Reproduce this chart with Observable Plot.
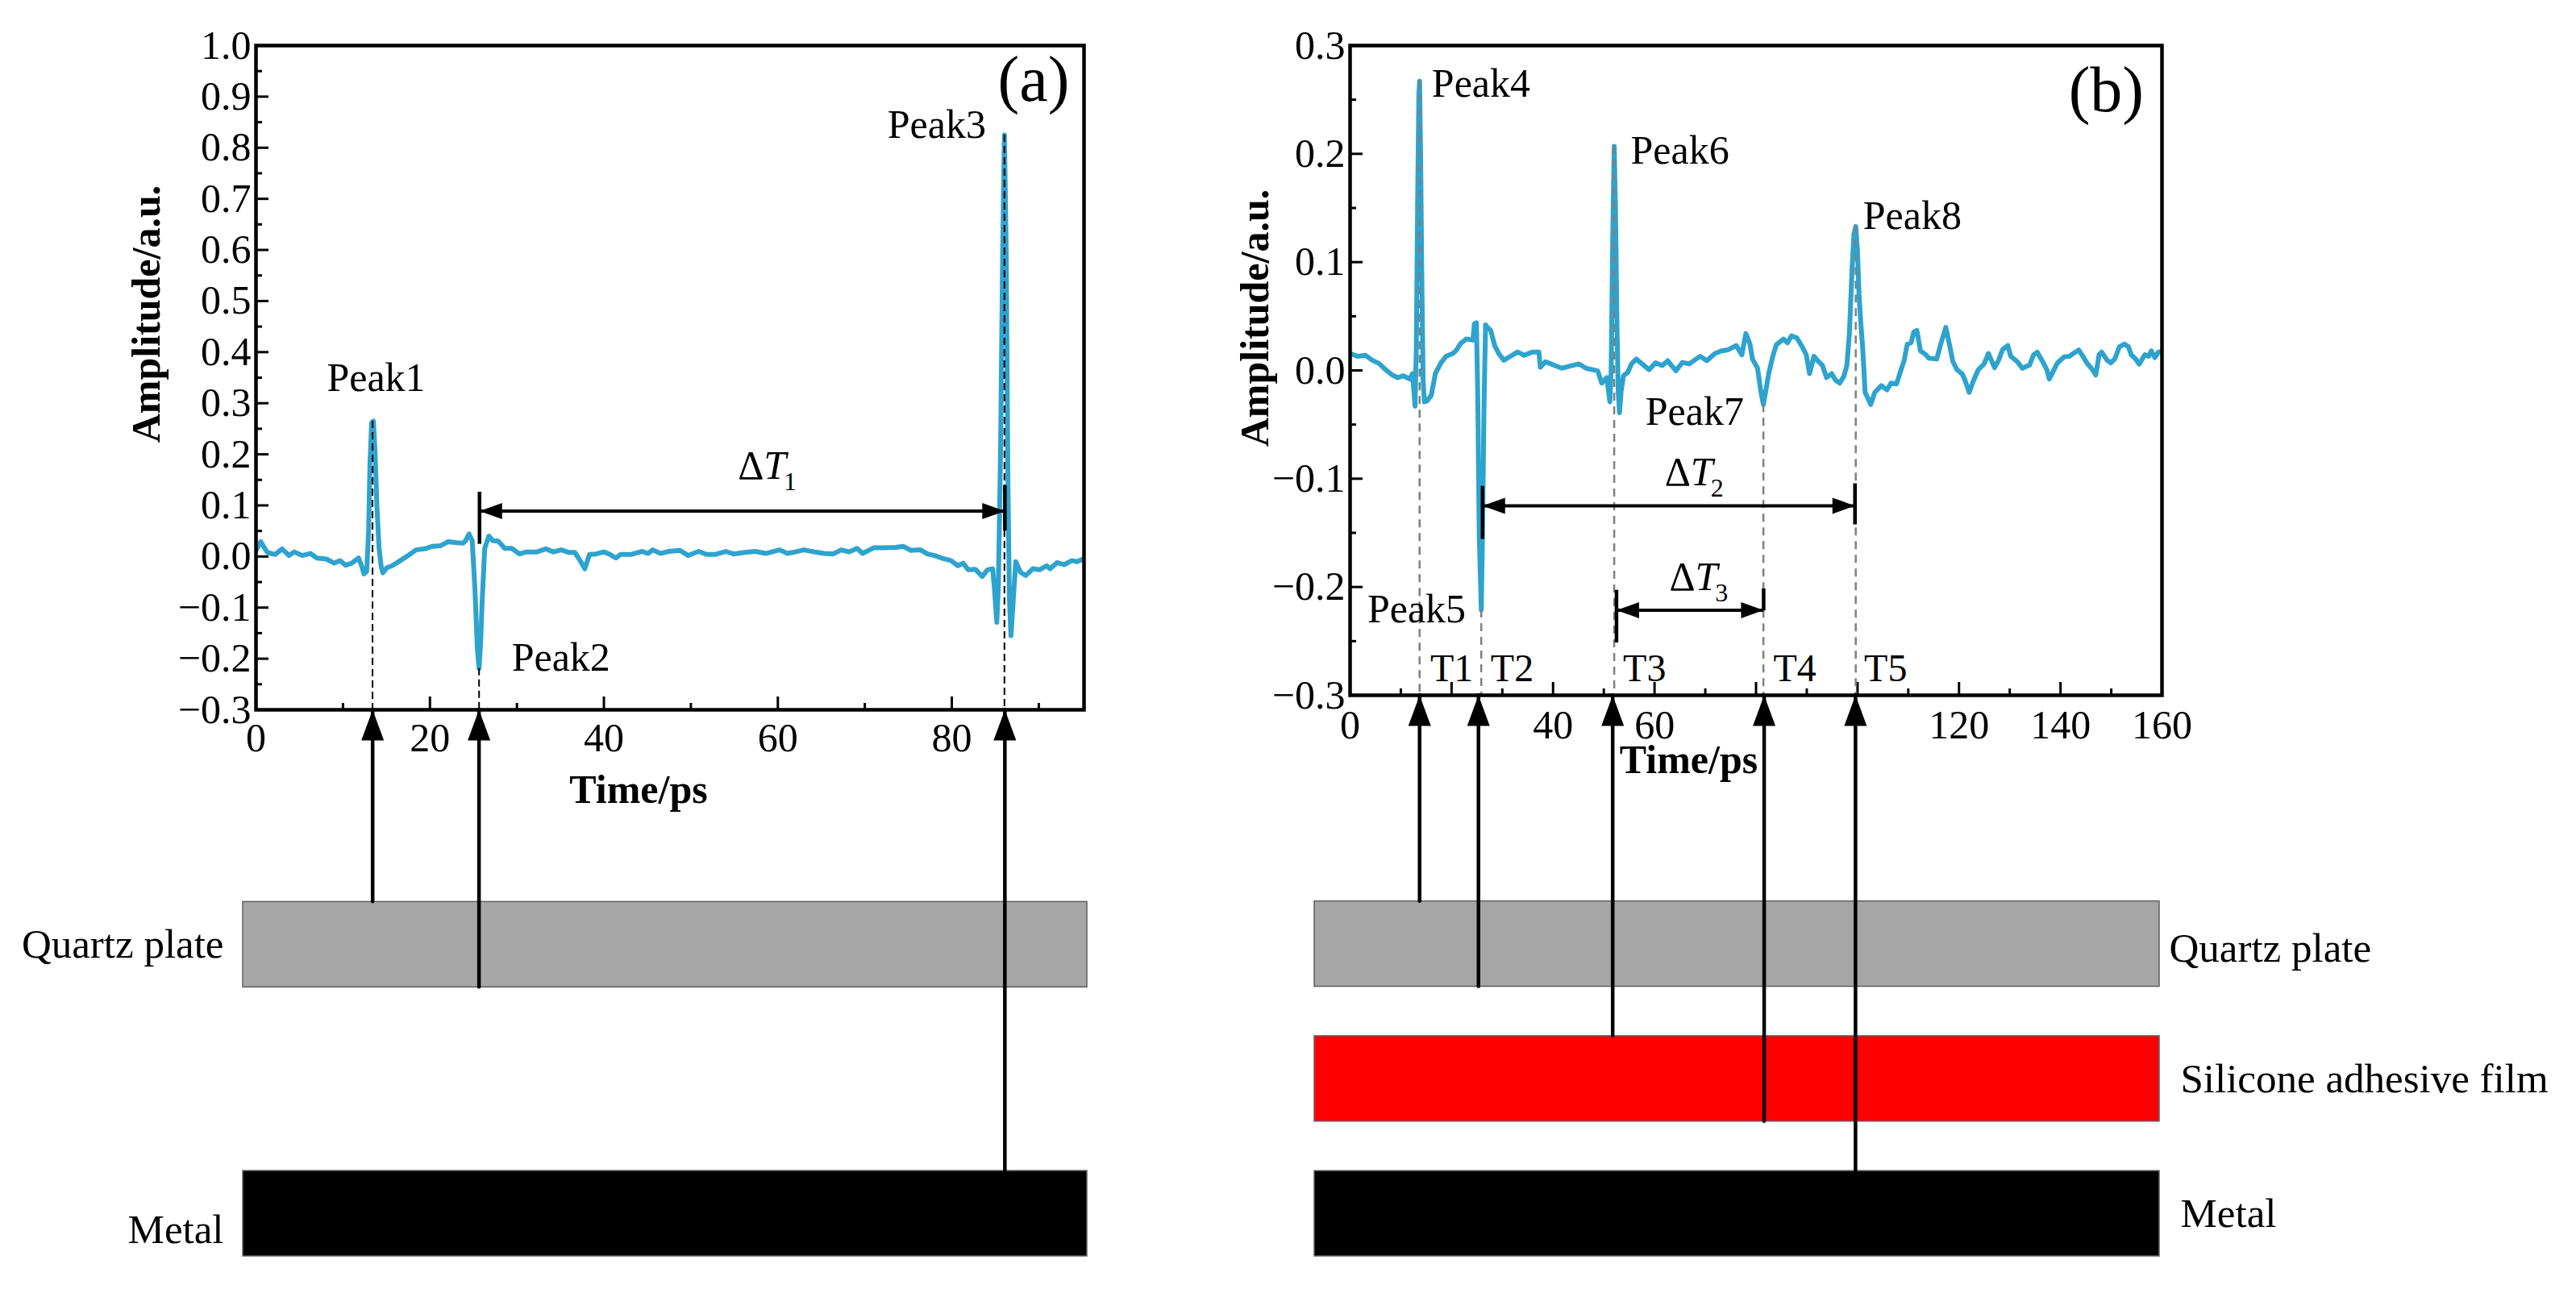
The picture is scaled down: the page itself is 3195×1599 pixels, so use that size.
<!DOCTYPE html>
<html><head><meta charset="utf-8">
<script src="https://cdn.jsdelivr.net/npm/d3@7"></script>
<script src="https://cdn.jsdelivr.net/npm/@observablehq/plot@0.6"></script>
<style>
html,body{margin:0;padding:0;background:#fff;}
#root{position:relative;width:3195px;height:1599px;overflow:hidden;background:#fff;}
#root > svg{position:absolute;left:0;top:0;}
</style></head><body><div id="root"></div>
<script>
// ---------------- data: panel (a) waveform ----------------
const timeA = [0,0.55,1.3,2.2,3.0,3.8,4.4,5.3,6.25,7.0,8.1,9.0,9.65,10.3,11.0,11.8,12.1,12.42,12.73,12.95,13.1,13.3,13.5,13.7,13.9,14.15,14.4,14.58,15.05,15.66,16.6,17.5,18.4,19.4,20.3,21.2,22.1,23.1,23.8,24.1,24.5,24.86,25.17,25.45,25.65,25.85,26.0,26.3,26.78,27.24,27.86,28.6,29.4,30.3,31.1,32.3,33.3,34.2,35.1,36.0,36.65,37.27,37.8,38.35,39.1,40.05,40.7,41.4,41.9,43.1,44.4,45.1,45.6,46.5,47.45,48.75,49.7,50.9,51.8,52.8,54.0,54.9,56.2,57.4,58.6,60.2,61.1,62.0,63.0,64.2,65.3,66.35,67.3,68.2,69.1,69.74,71.0,72.2,73.6,74.4,75.3,76.4,77.2,78.0,79.0,79.9,80.7,81.3,81.9,82.7,83.5,84.1,84.7,84.9,85.17,85.35,85.6,85.85,86.05,86.25,86.45,86.62,86.8,87.05,87.35,87.9,88.5,89.3,90.1,90.9,91.3,92.1,92.9,93.8,94.4,95.2];
const ampA  = [0.012,0.029,0.008,0.004,0.015,0.002,0.009,0.002,0.006,-0.003,-0.005,-0.013,-0.008,-0.017,-0.013,-0.003,-0.016,-0.034,-0.029,0.05,0.18,0.262,0.265,0.2,0.1,0.016,-0.02,-0.032,-0.022,-0.018,-0.008,0.002,0.013,0.015,0.02,0.021,0.029,0.027,0.026,0.031,0.044,0.031,-0.063,-0.18,-0.219,-0.16,-0.089,0.016,0.04,0.031,0.03,0.016,0.016,0.005,0.009,0.009,0.015,0.009,0.013,0.008,0.008,-0.008,-0.024,0.004,0.005,0.009,0.004,-0.003,0.004,0.004,0.01,0.006,0.013,0.006,0.01,0.012,0.002,0.01,0.004,0.004,0.01,0.005,0.008,0.01,0.006,0.013,0.006,0.009,0.013,0.009,0.006,0.005,0.013,0.009,0.016,0.006,0.017,0.017,0.018,0.02,0.012,0.013,0.005,0.002,-0.004,-0.008,-0.018,-0.013,-0.026,-0.025,-0.039,-0.026,-0.024,-0.063,-0.129,-0.06,0.2,0.6,0.825,0.6,0.15,-0.08,-0.155,-0.09,-0.01,-0.031,-0.037,-0.024,-0.026,-0.018,-0.024,-0.012,-0.016,-0.008,-0.01,-0.004];

// ---------------- data: panel (b) waveform ----------------
const timeB = [0,1.46,3.05,4.37,5.7,7.0,8.3,9.4,10.5,11.8,12.3,12.8,13.05,13.3,13.55,13.7,13.9,14.15,14.4,14.65,15.2,16.0,16.8,17.9,18.9,20.25,21.0,21.8,22.9,24.2,24.5,24.9,25.15,25.45,25.85,26.1,26.4,26.7,27.0,27.7,28.5,29.3,30.3,31.6,33.0,34.3,35.9,37.2,37.5,38.5,40.1,41.7,43.3,45.1,46.5,47.8,48.8,49.6,50.6,51.2,51.45,51.75,52.05,52.3,52.6,52.85,53.1,53.4,53.87,54.7,55.45,56.4,57.3,58.9,60.2,61.5,62.6,64.2,65.5,66.8,68.2,69.0,70.3,71.9,73.2,74.5,76.1,77.2,78.0,78.8,79.3,80.3,80.9,81.45,82.5,83.3,84.0,85.4,86.2,87.0,88.06,89.1,89.9,90.55,91.4,92.3,93.1,93.9,94.9,95.7,96.5,97.3,97.9,98.4,98.95,99.3,99.65,100.0,100.3,100.7,101.0,101.5,102.6,103.4,104.7,105.8,106.6,107.7,108.4,109.2,109.8,110.55,111.1,111.7,112.4,113.5,114.0,115.6,116.4,117.4,118.1,118.8,119.6,120.6,121.2,122.0,122.8,123.8,124.9,125.8,127.0,127.8,128.6,129.6,130.2,131.5,132.5,133.9,134.7,135.4,136.5,137.3,137.8,138.6,139.4,140.7,141.8,142.5,143.6,144.4,145.2,146.3,146.96,147.6,148.1,149.2,149.9,150.7,151.6,152.6,153.4,153.95,154.8,155.5,156.6,157.4,157.9,158.6,159.3,160.5];
const ampB  = [0.0156,0.0131,0.0139,0.0094,0.0064,0.0007,-0.0042,-0.0067,-0.005,-0.008,-0.003,-0.033,0.02,0.15,0.255,0.267,0.2,0.08,-0.01,-0.029,-0.028,-0.023,-0.003,0.007,0.013,0.0156,0.019,0.025,0.029,0.028,0.043,0.044,-0.02,-0.15,-0.221,-0.15,-0.03,0.042,0.04,0.037,0.023,0.0156,0.0094,0.013,0.017,0.014,0.017,0.017,0.003,0.008,0.005,0.002,0.004,0.006,0.002,0.0007,-0.0005,-0.0117,-0.0067,-0.029,0.0,0.12,0.207,0.15,0.04,-0.02,-0.039,-0.02,-0.005,-0.002,0.006,0.0105,0.007,0.0007,0.007,0.0044,0.0089,-0.0003,0.0074,0.006,0.0105,0.013,0.009,0.0156,0.018,0.019,0.023,0.0144,0.034,0.0244,0.0105,0.002,-0.018,-0.0315,-0.003,0.013,0.0238,0.029,0.0255,0.032,0.03,0.0218,0.0144,-0.003,0.013,0.0082,0.0045,-0.0067,-0.003,-0.0092,-0.0117,-0.0055,0.0045,0.034,0.096,0.126,0.133,0.11,0.07,0.04,0.022,-0.0203,-0.0315,-0.0203,-0.014,-0.018,-0.0117,-0.0124,-0.002,0.0094,0.0242,0.0255,0.0355,0.037,0.018,0.0144,0.0114,0.0105,0.0242,0.0397,0.0242,0.0082,0.0007,-0.003,-0.0092,-0.0203,-0.01,0.0007,0.0057,0.0156,0.0025,0.0094,0.0193,0.023,0.013,0.008,0.002,0.005,0.0144,0.0169,0.008,0.0007,-0.008,-0.0005,0.0069,0.0124,0.0131,0.0156,0.0188,0.0131,0.0069,0.0007,-0.0042,0.0144,0.0169,0.0094,0.0069,0.0106,0.0218,0.0243,0.0218,0.0144,0.0106,0.0057,0.0144,0.0131,0.018,0.0119,0.017,0.0175];

// ---------------- ticks ----------------
const yLabelsA = [-0.3,-0.2,-0.1,0,0.1,0.2,0.3,0.4,0.5,0.6,0.7,0.8,0.9,1.0];
const yMajorA  = [-0.2,-0.1,0,0.1,0.2,0.3,0.4,0.5,0.6,0.7,0.8,0.9];
const yMinorA  = [-0.25,-0.15,-0.05,0.05,0.15,0.25,0.35,0.45,0.55,0.65,0.75,0.85,0.95];
const xLabelsA = [0,20,40,60,80];
const xMajorA  = [20,40,60,80];
const xMinorA  = [10,30,50,70,90];
const yLabelsB = [-0.3,-0.2,-0.1,0,0.1,0.2,0.3];
const yMajorB  = [-0.2,-0.1,0,0.1,0.2];
const yMinorB  = [-0.25,-0.15,-0.05,0.05,0.15,0.25];
const xLabelsB = [0,40,60,120,140,160];
const xMajorB  = [20,40,60,80,100,120,140];
const xMinorB  = [10,30,50,70,90,110,130,150];

// ---------------- annotations ----------------
const peaksA = [{t:13.4, v:0.265},{t:25.65, v:-0.219},{t:86.05, v:0.825}];
const peakLabelsA = [{label:"Peak1", t:8.15, v:0.349},{label:"Peak2", t:29.4, v:-0.198},{label:"Peak3", t:72.6, v:0.845}];
const spansA = [{label:"ΔT1", t1:25.7, t2:86.1, v:0.089, l1:0.024, l2:0.126, r1:0.05, r2:0.139, lx:55.4, ly:0.178}];

const peaksB = [{t:13.7, v:0.267},{t:25.85, v:-0.221},{t:52.05, v:0.207},{t:81.45, v:-0.0315},{t:99.65, v:0.133}];
const peakLabelsB = [{label:"Peak4", t:16.1, v:0.2645},{label:"Peak5", t:3.4, v:-0.221},{label:"Peak6", t:55.3, v:0.2032},{label:"Peak7", t:58.2, v:-0.038},{label:"Peak8", t:101.1, v:0.1429}];
const tLabelsB = [{label:"T1", t:15.8, v:-0.2755},{label:"T2", t:27.7, v:-0.2755},{label:"T3", t:53.8, v:-0.2755},{label:"T4", t:83.4, v:-0.2755},{label:"T5", t:101.3, v:-0.2755}];
const spansB = [
  {label:"ΔT2", t1:26.1, t2:99.5, v:-0.125, l1:-0.156, l2:-0.107, r1:-0.1426, r2:-0.1046, lx:62.0, ly:-0.0938},
  {label:"ΔT3", t1:52.5, t2:81.5, v:-0.2214, l1:-0.2516, l2:-0.203, r1:-0.222, r2:-0.2017, lx:62.9, ly:-0.1906}
];

// ---------------- layer diagrams ----------------
const layersA = [
  {name:"Quartz plate", top:0, bottom:1, fill:"#a6a6a6"},
  {name:"Metal", top:3.15, bottom:4.15, fill:"#000000"}
];
const echoesA = [{t:13.41, depth:0},{t:25.64, depth:1},{t:86.1, depth:3.15}];
const layersB = [
  {name:"Quartz plate", top:0, bottom:1, fill:"#a6a6a6"},
  {name:"Silicone adhesive film", top:1.58, bottom:2.58, fill:"#ff0000"},
  {name:"Metal", top:3.16, bottom:4.16, fill:"#000000"}
];
const echoesB = [{t:13.7, depth:0},{t:25.3, depth:1},{t:51.75, depth:1.58},{t:81.6, depth:2.58},{t:99.6, depth:3.16}];

// ---------------- rendering ----------------
const W = 3195, H = 1599;
const blue = "#2ea3ce";
const font = '"Liberation Serif", "Times New Roman", serif';
const baseStyle = {fontFamily: font, fontSize: "50px", background: "transparent", color: "black", overflow: "visible"};
const fmt1 = d3.format(".1f");
const waveA = timeA.map((t, i) => ({t, v: ampA[i]}));
const waveB = timeB.map((t, i) => ({t, v: ampB[i]}));

function head(dir, L, Wd) {
  return {draw(ctx) {
    if (dir === "up") { ctx.moveTo(0, 0); ctx.lineTo(-Wd/2, L); ctx.lineTo(Wd/2, L); }
    else if (dir === "left") { ctx.moveTo(0, 0); ctx.lineTo(L, -Wd/2); ctx.lineTo(L, Wd/2); }
    else { ctx.moveTo(0, 0); ctx.lineTo(-L, -Wd/2); ctx.lineTo(-L, Wd/2); }
    ctx.closePath();
  }};
}
const headUp = head("up", 38, 28), headL = head("left", 28, 20), headR = head("right", 28, 20);

function chart(o) {
  const plotW = W - o.mr - o.ml, plotH = o.bottom - o.top;
  return Plot.plot({
    width: W, height: 1010,
    marginLeft: o.ml, marginRight: o.mr, marginTop: o.top, marginBottom: 1010 - o.bottom,
    x: {domain: o.xd}, y: {domain: o.yd},
    style: baseStyle,
    marks: [
      Plot.tickX(o.xMinor, {x: d => d, insetTop: plotH - 8, strokeWidth: 3}),
      Plot.tickX(o.xMajor, {x: d => d, insetTop: plotH - 16, strokeWidth: 3}),
      Plot.tickY(o.yMinor, {y: d => d, insetRight: plotW - 8, strokeWidth: 3}),
      Plot.tickY(o.yMajor, {y: d => d, insetRight: plotW - 16, strokeWidth: 3}),
      Plot.axisX({ticks: o.xLabels, tickSize: 0, tickPadding: o.xPad, tickFormat: d3.format("d"), label: null}),
      Plot.axisY({ticks: o.yLabels, tickSize: 0, tickPadding: 6, tickFormat: fmt1, label: null}),
      Plot.line(o.wave, {x: "t", y: "v", stroke: blue, strokeWidth: 6, strokeLinejoin: "round", clip: true}),
      Plot.ruleX(o.peaks, {x: "t", y1: "v", y2: o.yd[0], stroke: o.dashColor, strokeWidth: o.dashWidth, strokeDasharray: o.dash}),
      Plot.ruleY(o.spans, {y: "v", x1: "t1", x2: "t2", strokeWidth: 4}),
      Plot.ruleX(o.spans, {x: "t1", y1: "l1", y2: "l2", strokeWidth: 4.5}),
      Plot.ruleX(o.spans, {x: "t2", y1: "r1", y2: "r2", strokeWidth: 4.5}),
      Plot.dot(o.spans, {x: "t1", y: "v", symbol: headL, fill: "black", stroke: "none"}),
      Plot.dot(o.spans, {x: "t2", y: "v", symbol: headR, fill: "black", stroke: "none"}),
      Plot.text(o.spans, {x: "lx", y: "ly", text: "label", textAnchor: "start", lineAnchor: "middle"}),
      Plot.text(o.peakLabels, {x: "t", y: "v", text: "label", textAnchor: "start", lineAnchor: "middle"}),
      Plot.text(o.tLabels || [], {x: "t", y: "v", text: "label", textAnchor: "start", lineAnchor: "middle", fontSize: 48}),
      Plot.text([o.tag], {x: o.tagX, y: o.tagY, textAnchor: "middle", lineAnchor: "middle", fontSize: 80}),
      Plot.text(["Amplitude/a.u."], {frameAnchor: "left", rotate: -90, dx: o.ylx, dy: o.yly, textAnchor: "middle", lineAnchor: "middle", fontWeight: "bold"}),
      Plot.text(["Time/ps"], {frameAnchor: "bottom", dx: o.xlx, dy: o.xly, textAnchor: "middle", lineAnchor: "middle", fontWeight: "bold"}),
      Plot.frame({strokeWidth: 4.5})
    ]
  });
}

function layerPlot(o) {
  const mid = d => (d.top + d.bottom) / 2;
  return Plot.plot({
    width: W, height: H,
    marginLeft: o.barL, marginRight: W - o.barR, marginTop: o.axisY, marginBottom: H - 1558,
    x: {domain: o.xd, range: o.xr, axis: null},
    y: {domain: [-o.gap, o.depthMax], reverse: true, axis: null},
    style: baseStyle,
    marks: [
      Plot.rect(o.layers, {y1: "top", y2: "bottom", fill: "fill", stroke: "#606060", strokeWidth: 1.5}),
      ...o.labelMarks(mid),
      Plot.ruleX(o.echoes, {x: "t", y1: "depth", y2: -o.gap, strokeWidth: 4.5, strokeLinecap: "round"}),
      Plot.dot(o.echoes, {x: "t", y: -o.gap, symbol: headUp, fill: "black", stroke: "none"})
    ]
  });
}

const root = document.getElementById("root");

root.append(chart({
  ml: 317, mr: W - 1344, top: 56, bottom: 880, xd: [0, 95.2], yd: [-0.3, 1.0],
  xMinor: xMinorA, xMajor: xMajorA, yMinor: yMinorA, yMajor: yMajorA, xLabels: xLabelsA, yLabels: yLabelsA, xPad: 16,
  wave: waveA, peaks: peaksA, dashColor: "black", dashWidth: 2, dash: "9,5",
  spans: spansA, peakLabels: peakLabelsA, tag: "(a)", tagX: 89.4, tagY: 0.932,
  ylx: -136, yly: -79, xlx: -39, xly: 99
}));

root.append(chart({
  ml: 1674, mr: W - 2681, top: 56, bottom: 862, xd: [0, 160], yd: [-0.3, 0.3],
  xMinor: xMinorB, xMajor: xMajorB, yMinor: yMinorB, yMajor: yMajorB, xLabels: xLabelsB, yLabels: yLabelsB, xPad: 18,
  wave: waveB, peaks: peaksB, dashColor: "#7f7f7f", dashWidth: 2.5, dash: "10,7",
  spans: spansB, peakLabels: peakLabelsB, tLabels: tLabelsB, tag: "(b)", tagX: 149.0, tagY: 0.2586,
  ylx: -118, yly: -65, xlx: -83.5, xly: 80.5
}));

root.append(layerPlot({
  barL: 301, barR: 1348, axisY: 880, xd: [0, 95.2], xr: [317, 1344], gap: 2.25, depthMax: 4.15,
  layers: layersA, echoes: echoesA,
  labelMarks: mid => [
    Plot.text(layersA.filter(d => d.name !== "Metal"), {y: mid, text: "name", frameAnchor: "left", textAnchor: "end", lineAnchor: "middle", dx: -24, fontSize: 51}),
    Plot.text(layersA.filter(d => d.name === "Metal"), {y: mid, text: "name", frameAnchor: "left", textAnchor: "end", lineAnchor: "middle", dx: -24, dy: 20, fontSize: 51})
  ]
}));

root.append(layerPlot({
  barL: 1630, barR: 2678, axisY: 862, xd: [0, 160], xr: [1674, 2681], gap: 2.415, depthMax: 4.16,
  layers: layersB, echoes: echoesB,
  labelMarks: mid => [
    Plot.text(layersB.filter(d => d.name === "Quartz plate"), {y: mid, text: "name", frameAnchor: "right", textAnchor: "start", lineAnchor: "middle", dx: 12, dy: 6, fontSize: 51}),
    Plot.text(layersB.filter(d => d.name !== "Quartz plate"), {y: mid, text: "name", frameAnchor: "right", textAnchor: "start", lineAnchor: "middle", dx: 26, fontSize: 51})
  ]
}));

// Render ΔT labels as Δ + italic T + subscript digit
const NS = "http://www.w3.org/2000/svg";
root.querySelectorAll("text").forEach(t => {
  const m = /^ΔT(\d)$/.exec(t.textContent);
  if (!m) return;
  t.textContent = "";
  const a = document.createElementNS(NS, "tspan"); a.textContent = "Δ";
  const b = document.createElementNS(NS, "tspan"); b.textContent = "T"; b.setAttribute("font-style", "italic");
  const c = document.createElementNS(NS, "tspan"); c.textContent = m[1];
  c.setAttribute("font-size", "32"); c.setAttribute("dy", "14"); c.setAttribute("dx", "-3");
  t.append(a, b, c);
});
</script></body></html>
